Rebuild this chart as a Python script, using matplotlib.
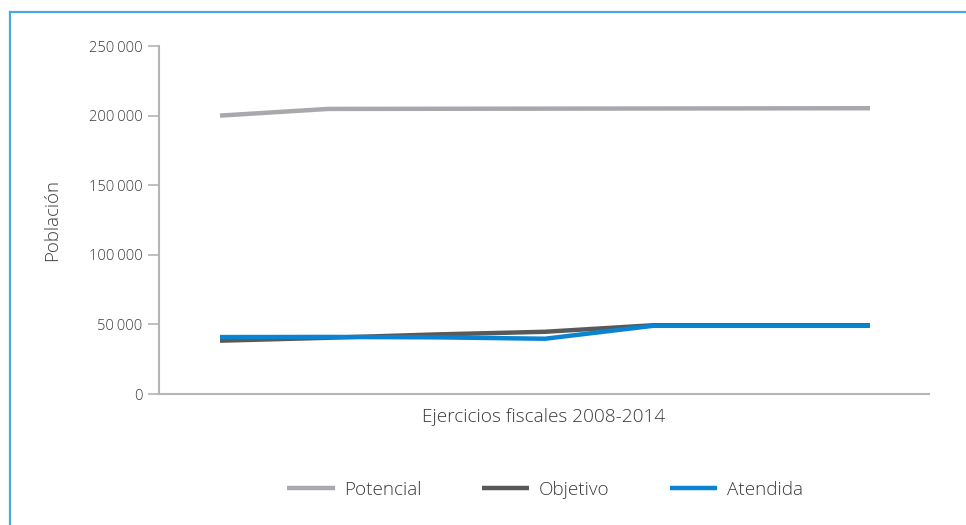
import matplotlib
matplotlib.use("Agg")
import matplotlib.pyplot as plt
from matplotlib.ticker import FuncFormatter
from matplotlib.lines import Line2D

plt.rcParams["font.family"] = ["Open Sans", "DejaVu Sans"]
plt.rcParams["font.weight"] = "light"
plt.rcParams["axes.labelweight"] = "light"

# Ejercicios fiscales 2008-2014
anios = [2008, 2009, 2010, 2011, 2012, 2013, 2014]
potencial = [200000, 204800, 204900, 205000, 205100, 205200, 205300]
objetivo = [38300, 40400, 42800, 44700, 49400, 49400, 49400]
atendida = [40900, 41000, 40700, 39700, 49000, 49000, 49000]

colores = {"Potencial": "#a7a9ac", "Objetivo": "#58595b", "Atendida": "#0a84d0"}
texto = "#3a3a3a"
gris_eje = "#b5b5b5"

fig = plt.figure(figsize=(9.66, 5.25), dpi=100)
ax = fig.add_axes([159 / 966, 131 / 525, 770 / 966, 348 / 525])

x = list(range(len(anios)))
for nombre, serie in [("Potencial", potencial), ("Objetivo", objetivo), ("Atendida", atendida)]:
    ax.plot(x, serie, color=colores[nombre], linewidth=3.2, solid_capstyle="butt",
            solid_joinstyle="miter", label=nombre)

ax.set_xlim(-0.563, 6.545)
ax.set_ylim(0, 250000)
ax.set_yticks(range(0, 250001, 50000))
ax.yaxis.set_major_formatter(FuncFormatter(lambda v, p: f"{int(v):,}".replace(",", "\u2009")))
ax.set_xticks([])

for lado in ["top", "right"]:
    ax.spines[lado].set_visible(False)
for lado in ["left", "bottom"]:
    ax.spines[lado].set_color(gris_eje)
    ax.spines[lado].set_linewidth(1.5)
ax.tick_params(axis="y", colors=gris_eje, length=8, width=1.2, labelcolor=texto,
               labelsize=10.5, pad=4)

ax.set_ylabel("Población", fontsize=13.4, color=texto, labelpad=20)
ax.set_xlabel("Ejercicios fiscales 2008-2014", fontsize=13.7, color=texto, labelpad=10)

handles = [Line2D([], [], color=colores[n], linewidth=3.2, solid_capstyle="butt") for n in colores]
fig.legend(handles, list(colores.keys()), loc="center", ncol=3,
           bbox_to_anchor=(545 / 966, 35 / 525), frameon=False, fontsize=13.6,
           labelcolor=texto, handlelength=2.5, handletextpad=0.5, columnspacing=3.2)

# marco azul del recuadro
borde = "#4ba6e6"
fig.add_artist(Line2D([10 / 966, 10 / 966], [0, 513 / 525], color=borde, linewidth=1.6,
                      transform=fig.transFigure))
fig.add_artist(Line2D([10 / 966, 1], [513 / 525, 513 / 525], color=borde, linewidth=1.6,
                      transform=fig.transFigure))

fig.savefig("out.png", dpi=100, facecolor="white")
